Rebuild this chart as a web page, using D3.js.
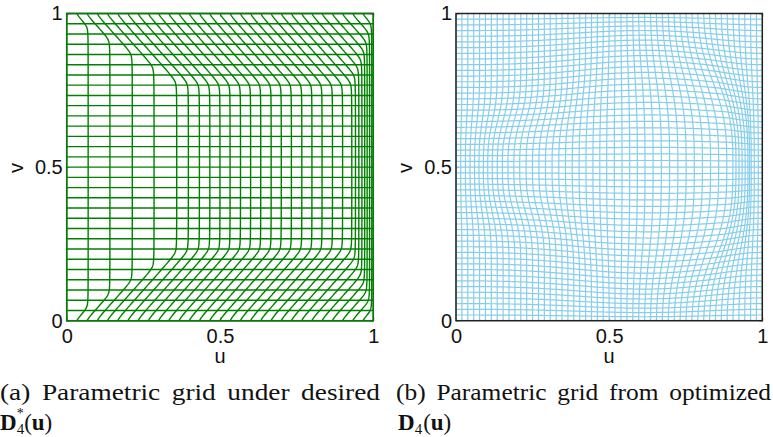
<!DOCTYPE html>
<html>
<head>
<meta charset="utf-8">
<script src="https://cdn.jsdelivr.net/npm/d3@7"></script>
<style>
  body { margin: 0; background: #fff; }
  svg { display: block; }
</style>
</head>
<body>
<svg id="fig" width="773" height="437"></svg>
<script>
// ---------------- data ----------------
const tickValues = [0, 0.5, 1];
const tickLabels = ["0", "0.5", "1"];

// Panel (a): 31 u-isolines x 31 v-isolines.
// Position of each u-isoline along the top/bottom edges ...
const desiredEdgeU = [0, 0.0333, 0.0667, 0.1, 0.1333, 0.1667, 0.2, 0.2333, 0.2667, 0.3,
  0.3333, 0.3667, 0.4, 0.4333, 0.4667, 0.5, 0.5333, 0.5667, 0.6, 0.6333, 0.6667,
  0.7, 0.7333, 0.7667, 0.8, 0.8333, 0.8667, 0.9, 0.9333, 0.9667, 1];
// ... and in the straight middle band.
const desiredMidX = [0, 0.070, 0.141, 0.214, 0.285, 0.359, 0.397, 0.433, 0.467, 0.500,
  0.533, 0.567, 0.600, 0.633, 0.667, 0.700, 0.733, 0.767, 0.800, 0.833, 0.867,
  0.900, 0.930, 0.942, 0.953, 0.963, 0.972, 0.980, 0.988, 0.995, 1];
const desiredV = desiredEdgeU.slice();

// Panel (b): u-isoline positions across the middle row (v = 0.5)
const optKnotU = [0, 0.05, 0.1, 0.15, 0.2, 0.25, 0.3, 0.35, 0.4, 0.5, 0.6, 0.7, 0.8, 0.9, 0.95, 1];
const optKnotX = [0, 0.04, 0.078, 0.115, 0.158, 0.208, 0.262, 0.318, 0.375, 0.492,
  0.622, 0.762, 0.9, 0.952, 0.966, 1];
// height of the deformed zone: narrow on the left, wide near the right edge
const optZoneU = [0, 0.35, 0.55, 1];
const optZoneH = [0.17, 0.17, 0.3, 0.3];
// vertical spreading of the v-isolines at mid-height
const optSpread = 0.16;
const optCountU = 53, optCountV = 55;

// ---------------- layout ----------------
const svg = d3.select("#fig");
const yTop = 13.5, yBot = 320.7;
const panels = [
  { x0: 66.7, x1: 373.3, color: "#008000", width: 1.4, frameOnTop: false },
  { x0: 456.0, x1: 762.3, color: "#87ceeb", width: 1.2, frameOnTop: true }
];
const axisFont = "'Liberation Sans', Arial, Helvetica, sans-serif";
const serif = "'Liberation Serif', 'Times New Roman', serif";

// ---------------- mappings ----------------
// shear of a u-isoline inside the top / bottom band, slightly rounded at the knee
function bandShift(o, d) {
  if (o <= 1e-6) return 0;
  const k = 0.012, s = 1.15;
  const g = z => (z + Math.sqrt(z * z + k * k)) / 2;
  return o * (g(o - d / s) - g(-d / s)) / (g(o) - g(0));
}
function desiredX(i, v) {
  const e = desiredEdgeU[i], m = desiredMidX[i], o = m - e;
  return m - bandShift(o, 1 - v) - bandShift(o, v);
}

const optMid = d3.scaleLinear().domain(optKnotU).range(optKnotX);
const optZone = d3.scaleLinear().domain(optZoneU).range(optZoneH);
function optWeight(u, v) { return Math.exp(-Math.pow(Math.abs((v - 0.5) / optZone(u)), 3)); }
function optX(u, v) { return u + optWeight(u, v) * (optMid(u) - u); }
function optY(u, v) {
  const bump = Math.pow(Math.sin(Math.PI * Math.pow(u, 1.4)), 2);
  return v + optSpread * bump * (v - 0.5) * 4 * v * (1 - v);
}

// ---------------- drawing ----------------
panels.forEach((p, idx) => {
  const x = d3.scaleLinear().domain([0, 1]).range([p.x0, p.x1]);
  const y = d3.scaleLinear().domain([0, 1]).range([yBot, yTop]);
  const g = svg.append("g");
  const line = d3.line().x(d => x(d[0])).y(d => y(d[1]));

  // axes with inward ticks
  g.append("g").attr("transform", `translate(0,${yBot})`)
    .call(d3.axisBottom(x).tickValues(tickValues).tickFormat((d, i) => tickLabels[i])
      .tickSize(-3).tickPadding(8));
  g.append("g").attr("transform", `translate(${p.x0},0)`)
    .call(d3.axisLeft(y).tickValues(tickValues).tickFormat((d, i) => tickLabels[i])
      .tickSize(-3).tickPadding(4));
  g.append("g").attr("transform", `translate(0,${yTop})`)
    .call(d3.axisTop(x).tickValues(tickValues).tickFormat("").tickSize(-3));
  g.append("g").attr("transform", `translate(${p.x1},0)`)
    .call(d3.axisRight(y).tickValues(tickValues).tickFormat("").tickSize(-3));
  g.selectAll(".domain").remove();
  g.selectAll(".tick line").attr("stroke", "#888");
  g.selectAll(".tick text").attr("font-size", 20).attr("font-family", axisFont).attr("fill", "#111");

  const frame = () => g.append("rect").attr("x", p.x0).attr("y", yTop)
    .attr("width", p.x1 - p.x0).attr("height", yBot - yTop)
    .attr("fill", "none").attr("stroke", "#222").attr("stroke-width", 1.5);
  if (!p.frameOnTop) frame();

  const grid = g.append("g").attr("fill", "none").attr("stroke", p.color)
    .attr("stroke-width", p.width);
  const samples = d3.range(0, 1.00001, 1 / 300);

  if (idx === 0) {
    desiredMidX.forEach((m, i) => {
      grid.append("path").attr("d", line(samples.map(v => [desiredX(i, v), v])));
    });
    desiredV.forEach(v => {
      grid.append("path").attr("d", line([[0, v], [1, v]]));
    });
  } else {
    d3.range(optCountU).forEach(j => {
      const u = j / (optCountU - 1);
      grid.append("path").attr("d", line(samples.map(v => [optX(u, v), optY(u, v)])));
    });
    d3.range(optCountV).forEach(k => {
      const v = k / (optCountV - 1);
      grid.append("path").attr("d", line(samples.map(u => [optX(u, v), optY(u, v)])));
    });
  }
  if (p.frameOnTop) frame();

  // axis titles
  g.append("text").attr("x", x(0.5)).attr("y", 363).attr("text-anchor", "middle")
    .attr("font-size", 20).attr("font-family", axisFont).attr("fill", "#111").text("u");
  g.append("text").attr("transform", `translate(${p.x0 - 44},168) rotate(-90)`)
    .attr("text-anchor", "middle").attr("font-size", 20).attr("font-family", axisFont)
    .attr("fill", "#111").text("v");
});

// ---------------- captions ----------------
const capSize = 23;
function captionLine(txt, x0, x1, yb) {
  svg.append("text").attr("x", x0).attr("y", yb).attr("font-family", serif)
    .attr("font-size", capSize).attr("fill", "#111")
    .attr("textLength", x1 - x0).attr("lengthAdjust", "spacingAndGlyphs")
    .attr("word-spacing", 4).text(txt);
}
captionLine("(a) Parametric grid under desired", 0, 380, 400);
captionLine("(b) Parametric grid from optimized", 396, 771, 400);

function symbolLine(x0, yb, star) {
  const t = svg.append("text").attr("x", x0).attr("y", yb).attr("font-family", serif)
    .attr("font-size", capSize).attr("fill", "#111");
  t.append("tspan").attr("font-weight", "bold").text("D");
  t.append("tspan").attr("font-size", 15).attr("dy", 4).text("4");
  if (star) {
    t.append("tspan").attr("font-size", 14).attr("dx", -7.5).attr("dy", -16.5).text("*");
    t.append("tspan").attr("dy", 12.5).attr("dx", 0.5).text("(");
  } else {
    t.append("tspan").attr("dy", -4).attr("dx", 1).text("(");
  }
  t.append("tspan").attr("font-weight", "bold").text("u");
  t.append("tspan").text(")");
}
symbolLine(0, 430, true);
symbolLine(398, 430, false);
</script>
</body>
</html>
